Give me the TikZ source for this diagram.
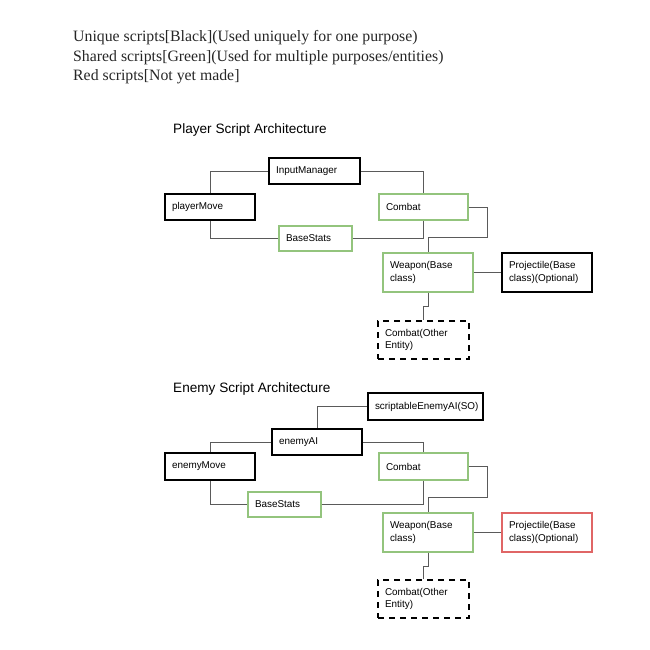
\documentclass[tikz,border=0pt]{standalone}
\usepackage{fontspec}
\setmainfont{Liberation Serif}
\setsansfont{Liberation Sans}
\definecolor{shgreen}{HTML}{93C47D}
\definecolor{nyred}{HTML}{E06666}
\definecolor{conn}{HTML}{5A5A5A}
\tikzset{
  sbox/.style={rectangle, inner xsep=7pt, inner ysep=0pt, align=left,
    font=\fontsize{9.9}{12.6}\selectfont\sffamily},
  uniq/.style={sbox, draw=black, line width=1.7pt},
  shared/.style={sbox, draw=shgreen, line width=1.4pt},
  notmade/.style={sbox, draw=nyred, line width=1.4pt},
  other/.style={sbox, draw=black, line width=1.7pt, dash pattern=on 6pt off 5pt},
  link/.style={draw=conn, line width=0.8pt},
  hdr/.style={anchor=base west, inner sep=0pt, font=\fontsize{15.8}{19}\selectfont\rmfamily, text=black!85},
  ttl/.style={anchor=base west, inner sep=0pt, font=\fontsize{13.6}{16}\selectfont\sffamily}
}
\newcommand{\bx}[6]{%
  \node[#2, minimum width=#5pt, minimum height=#6pt, text width=#5pt-14pt] (#1) at (#3,#4)}
\begin{document}
\begin{tikzpicture}[x=1pt,y=-1pt]
\useasboundingbox (0,0) rectangle (650,650);
% header
\node[hdr] (h1) at (73,42) {Unique scripts[Black](Used uniquely for one purpose)};
\node[hdr] (h2) at (73,61.5) {Shared scripts[Green](Used for multiple purposes/entities)};
\node[hdr] (h3) at (73,81) {Red scripts[Not yet made]};
% ---------- Player ----------
\node[ttl] (pt) at (173,133) {Player Script Architecture};
\bx{im}{uniq}{314.5}{171}{91}{26} {InputManager};
\bx{pm}{uniq}{210}{207}{90}{26} {playerMove};
\bx{pc}{shared}{423.5}{207}{89}{26} {Combat};
\bx{pbs}{shared}{315.5}{238.5}{73}{25} {BaseStats};
\bx{pw}{shared}{428}{272.5}{90}{39} {Weapon(Base\\class)};
\bx{pp}{uniq}{547}{272.5}{90}{39} {Projectile(Base\\class)(Optional)};
\bx{po}{other}{423.5}{340}{91}{38} {Combat(Other\\Entity)};
\coordinate (pj) at (487,237);
\draw[link] (im.west) -| (pm.north);
\draw[link] (im.east) -| (pc.north);
\draw[link] (pm.south) |- (pbs.west);
\draw[link] (pbs.east) -| (pc.south);
\draw[link] (pc.east) -| (pj) -| (pw.north);
\draw[link] (pw.east) -- (pp.west);
\draw[link] (pw.south) -- ++(0,14) -| (po.north);
% ---------- Enemy ----------
\node[ttl] (et) at (173,392) {Enemy Script Architecture};
\bx{sai}{uniq}{425.5}{406.5}{115}{27} {scriptableEnemyAI(SO)};
\bx{eai}{uniq}{317}{442}{90}{26} {enemyAI};
\bx{em}{uniq}{210}{466.5}{90}{27} {enemyMove};
\bx{ec}{shared}{423.5}{466.5}{89}{27} {Combat};
\bx{ebs}{shared}{284.5}{504.5}{73}{25} {BaseStats};
\bx{ew}{shared}{428}{532.5}{90}{39} {Weapon(Base\\class)};
\bx{ep}{notmade}{547}{532.5}{90}{39} {Projectile(Base\\class)(Optional)};
\bx{eo}{other}{423.5}{599}{91}{38} {Combat(Other\\Entity)};
\coordinate (ej) at (487,497);
\draw[link] (sai.west) -| (eai.north);
\draw[link] (eai.west) -| (em.north);
\draw[link] (eai.east) -| (ec.north);
\draw[link] (em.south) |- (ebs.west);
\draw[link] (ebs.east) -| (ec.south);
\draw[link] (ec.east) -| (ej) -| (ew.north);
\draw[link] (ew.east) -- (ep.west);
\draw[link] (ew.south) -- ++(0,14) -| (eo.north);
\end{tikzpicture}
\end{document}
